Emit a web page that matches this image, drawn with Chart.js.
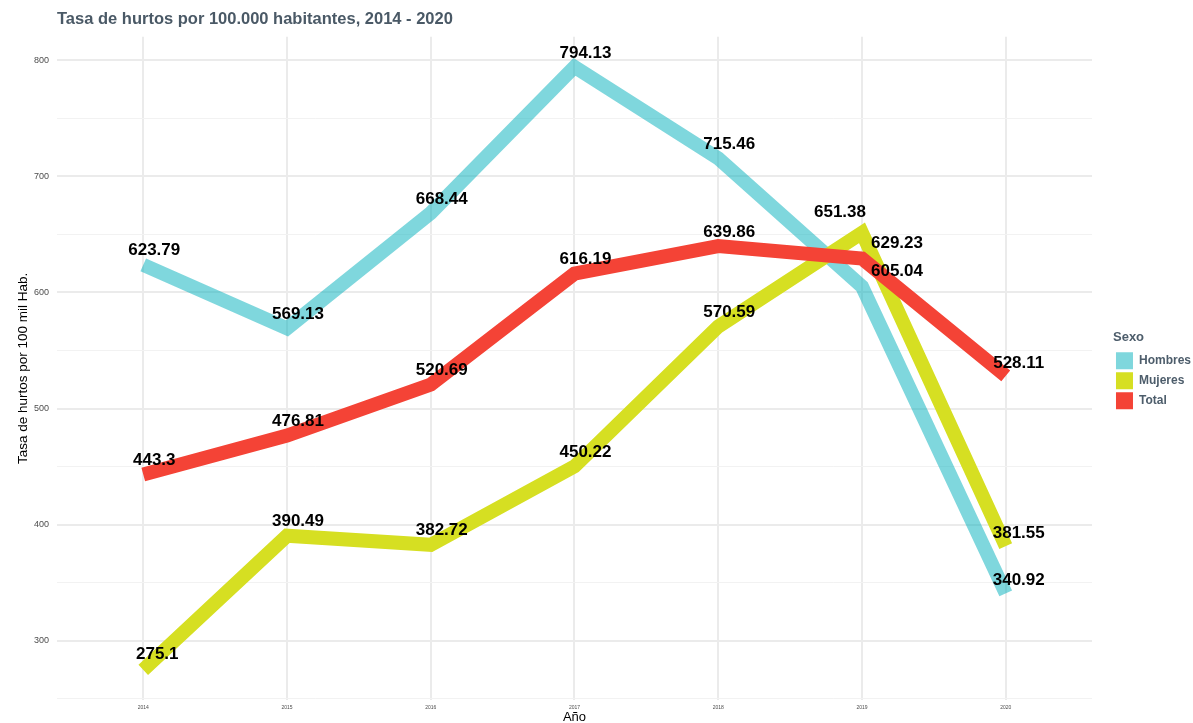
<!DOCTYPE html>
<html>
<head>
<meta charset="utf-8">
<script src="https://cdn.jsdelivr.net/npm/chart.js@4.4.1/dist/chart.umd.min.js"></script>
<style>
  html, body { margin: 0; padding: 0; background: #fff; }
  #wrap { width: 1193px; height: 723px; }
</style>
</head>
<body>
<div id="wrap"><canvas id="chart" width="1193" height="723"></canvas></div>
<script>
const years = [2014, 2015, 2016, 2017, 2018, 2019, 2020];
const hombres = [623.79, 569.13, 668.44, 794.13, 715.46, 605.04, 340.92];
const mujeres = [275.1, 390.49, 382.72, 450.22, 570.59, 651.38, 381.55];
const total = [443.3, 476.81, 520.69, 616.19, 639.86, 629.23, 528.11];
const seriesNames = ["Hombres", "Mujeres", "Total"];
const yGrid = [250, 300, 350, 400, 450, 500, 550, 600, 650, 700, 750, 800];

// where each value label sits relative to its point (px)
const labelShift = [
  [[11, -14], [11, -14], [11, -14], [11, -14], [11, -14], [35, -15], [13, -13]],
  [[14, -15], [11, -14], [11, -14], [11, -14], [11, -14], [-22, -20], [13, -13]],
  [[11, -14], [11, -14], [11, -14], [11, -14], [11, -14], [35, -15], [13, -13]],
];

const FONT = '"Liberation Sans", Arial, sans-serif';
Chart.defaults.font.family = FONT;

function toPoints(values) {
  return years.map((yr, i) => ({ x: yr, y: values[i] }));
}

const seriesValues = [hombres, mujeres, total];
const colors = ["rgba(0, 175, 187, 0.5)", "#d6df22", "#f44336"];

const valueLabels = {
  id: "valueLabels",
  afterDatasetsDraw(chart) {
    const ctx = chart.ctx;
    ctx.save();
    ctx.font = "bold 17px " + FONT;
    ctx.fillStyle = "#000";
    ctx.textAlign = "center";
    ctx.textBaseline = "middle";
    seriesValues.forEach((vals, i) => {
      const meta = chart.getDatasetMeta(i);
      meta.data.forEach((pt, j) => {
        const off = labelShift[i][j];
        ctx.fillText(String(vals[j]), pt.x + off[0], pt.y + off[1]);
      });
    });
    ctx.restore();
  },
};

new Chart(document.getElementById("chart"), {
  type: "line",
  data: {
    datasets: seriesNames.map((name, i) => ({
      label: name,
      data: toPoints(seriesValues[i]),
      borderColor: colors[i],
      backgroundColor: colors[i],
      borderWidth: 14,
      borderJoinStyle: "miter",
      borderCapStyle: "butt",
      pointRadius: 0,
      tension: 0,
      fill: false,
      order: 2 - i,
    })),
  },
  options: {
    responsive: false,
    devicePixelRatio: 1,
    animation: false,
    layout: { padding: { left: 0, top: 0, bottom: 0, right: -8 } },
    plugins: {
      tooltip: { enabled: false },
      title: {
        display: true,
        text: "Tasa de hurtos por 100.000 habitantes, 2014 - 2020",
        align: "start",
        fullSize: false,
        color: "#4a5966",
        font: { size: 16.5, weight: "bold" },
        padding: { top: 10, bottom: 7 },
      },
      legend: {
        position: "right",
        align: "center",
        fullSize: false,
        title: {
          display: true,
          text: "Sexo",
          position: "start",
          color: "#4d5d6b",
          font: { size: 13, weight: "bold" },
          padding: { top: 6, bottom: 3 },
        },
        labels: {
          boxWidth: 17,
          boxHeight: 17,
          padding: 3,
          color: "#4d5d6b",
          font: { size: 12, weight: "bold" },
          generateLabels: (chart) =>
            chart.data.datasets.map((ds, i) => ({
              text: ds.label,
              fillStyle: ds.backgroundColor,
              strokeStyle: ds.backgroundColor,
              lineWidth: 0,
              hidden: false,
              datasetIndex: i,
              fontColor: "#4d5d6b",
            })),
        },
      },
    },
    scales: {
      x: {
        type: "linear",
        min: 2013.4,
        max: 2020.6,
        afterBuildTicks: (s) => {
          s.ticks = years.map((v) => ({ value: v }));
        },
        afterFit: (s) => {
          s.height = 23;
        },
        border: { display: false },
        grid: { color: "#ebebeb", lineWidth: 2, drawTicks: false },
        ticks: {
          color: "#4d4d4d",
          font: { size: 5 },
          padding: 5,
          maxRotation: 0,
          callback: (v) => String(v),
        },
        title: {
          display: true,
          text: "Año",
          color: "#000",
          font: { size: 13 },
          padding: { top: 0, bottom: -2 },
        },
      },
      y: {
        min: 249.1,
        max: 820.1,
        afterBuildTicks: (s) => {
          s.ticks = yGrid.map((v) => ({ value: v }));
        },
        afterFit: (s) => {
          s.width = 57;
        },
        border: { display: false },
        grid: {
          drawTicks: false,
          color: (c) => (c.tick && c.tick.value % 100 === 0 ? "#ebebeb" : "#f2f2f2"),
          lineWidth: (c) => (c.tick && c.tick.value % 100 === 0 ? 2 : 1),
        },
        ticks: {
          color: "#4d4d4d",
          font: { size: 9 },
          padding: 8,
          callback: (v) => (v % 100 === 0 ? String(v) : ""),
        },
        title: {
          display: true,
          text: "Tasa de hurtos por 100 mil Hab.",
          color: "#000",
          font: { size: 13.5 },
          padding: { top: 15, bottom: 0 },
        },
      },
      // empty axis used only as a gap between the panel and the legend
      gap: {
        type: "linear",
        position: "right",
        display: true,
        grid: { display: false, drawTicks: false },
        border: { display: false },
        ticks: { display: false },
        afterFit: (s) => {
          s.width = 21;
        },
      },
    },
  },
  plugins: [valueLabels],
});
</script>
</body>
</html>
